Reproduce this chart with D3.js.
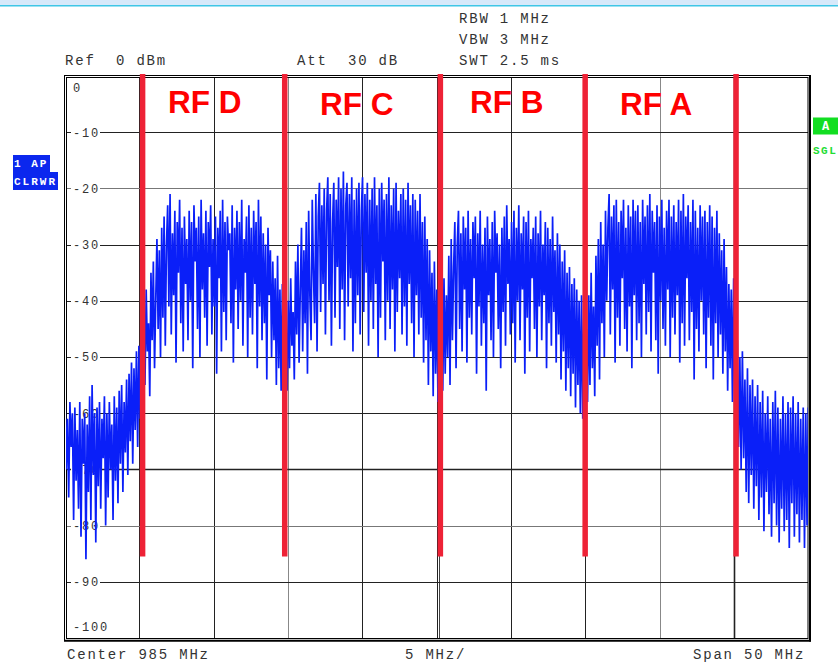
<!DOCTYPE html>
<html>
<head>
<meta charset="utf-8">
<title>Spectrum RF A-D</title>
<script src="https://d3js.org/d3.v7.min.js"></script>
<style>
    body { margin: 0; background: #fff; }
    svg { display: block; }
    .mono { font-family: "Liberation Mono", "DejaVu Sans Mono", monospace; fill: #333; }
</style>
</head>
<body>
<svg width="838" height="662"></svg>
<script>
// frequency edges (MHz) of the trace segments, split at the markers
const segmentEdges = [960, 965.22, 974.78, 985.25, 994.99, 1005.14, 1010];

// trace levels in dBm
const floorLow = [-57, -70, -61, -75, -58, -66, -60, -79, -59, -72, -63, -77, -58, -82, -61, -69, -60, -86, -62, -74,
    -57, -79, -55, -71, -60, -83, -59, -73, -58, -77, -61, -68, -57, -80, -60, -75, -58, -70, -62, -79,
    -57, -72, -59, -76, -56, -69, -55, -74, -58, -67, -54, -71, -53, -65, -51, -69, -52, -63, -49, -66,
    -48, -61, -47];
const bandD = [-59, -42, -55, -38, -49, -44, -57, -35, -47, -33, -52, -40, -29, -45, -31, -50, -27, -43, -25, -48,
    -30, -23, -41, -21, -46, -28, -39, -24, -51, -26, -35, -22, -44, -27, -49, -25, -37, -29, -47, -24,
    -40, -26, -52, -23, -33, -27, -45, -25, -50, -22, -38, -28, -43, -24, -48, -26, -34, -23, -46, -29,
    -41, -25, -53, -27, -36, -24, -49, -22, -42, -26, -47, -25, -31, -28, -44, -23, -51, -27, -38, -24,
    -45, -26, -40, -22, -48, -29, -35, -25, -50, -23, -43, -27, -46, -24, -37, -26, -52, -22, -41, -25,
    -47, -28, -44, -30, -54, -27, -39, -31, -50, -33, -47, -36, -55, -32, -52, -38, -56, -37, -58];
const bandC = [-61, -44, -56, -40, -52, -36, -48, -42, -54, -33, -46, -30, -51, -38, -27, -49, -31, -44, -26, -53,
    -24, -39, -47, -22, -35, -44, -21, -49, -25, -19, -42, -23, -37, -20, -46, -24, -18, -40, -21, -48,
    -26, -19, -43, -22, -34, -18, -45, -20, -38, -17, -47, -23, -19, -41, -21, -36, -18, -49, -22, -44,
    -20, -39, -19, -46, -24, -18, -42, -21, -35, -19, -48, -22, -40, -20, -45, -18, -37, -23, -50, -20,
    -43, -19, -33, -22, -47, -21, -40, -18, -45, -23, -38, -20, -49, -19, -42, -24, -36, -21, -46, -20,
    -41, -22, -48, -19, -37, -23, -44, -21, -50, -22, -39, -24, -46, -21, -43, -26, -51, -25, -47, -29,
    -55, -31, -49, -35, -57, -33, -53, -38, -58, -37];
const bandB = [-58, -41, -56, -36, -53, -39, -50, -32, -55, -29, -47, -34, -26, -52, -30, -24, -45, -28, -49, -25,
    -38, -27, -51, -24, -43, -29, -46, -26, -36, -25, -53, -28, -41, -24, -48, -30, -44, -27, -56, -25,
    -39, -29, -47, -26, -50, -24, -35, -28, -45, -30, -52, -27, -42, -25, -48, -23, -37, -29, -46, -26,
    -44, -24, -51, -27, -40, -23, -47, -28, -38, -25, -53, -26, -43, -24, -49, -29, -36, -27, -45, -25,
    -50, -28, -41, -24, -47, -30, -39, -26, -52, -27, -44, -29, -48, -25, -42, -31, -51, -28, -46, -30,
    -54, -33, -49, -31, -56, -35, -52, -34, -57, -37, -53, -36, -59, -38, -55, -40, -60, -39, -61, -41];
const bandA = [-62, -45, -58, -39, -55, -35, -52, -41, -57, -32, -48, -29, -54, -26, -44, -30, -50, -24, -40, -27,
    -21, -46, -25, -38, -23, -51, -22, -43, -26, -48, -24, -36, -22, -45, -27, -49, -23, -41, -25, -52,
    -22, -39, -24, -47, -23, -44, -26, -50, -22, -37, -25, -46, -23, -42, -21, -49, -24, -35, -26, -47,
    -23, -53, -25, -40, -22, -45, -27, -48, -24, -38, -22, -50, -25, -43, -23, -46, -26, -39, -22, -51,
    -24, -44, -21, -48, -25, -36, -23, -47, -26, -42, -22, -54, -24, -45, -27, -49, -23, -40, -25, -46,
    -24, -52, -26, -43, -23, -48, -25, -54, -27, -44, -24, -50, -28, -46, -31, -53, -29, -49, -34, -56,
    -37, -52, -38, -58, -36, -59];
const floorHigh = [-62, -47, -66, -50, -70, -49, -68, -54, -74, -52, -76, -55, -71, -54, -77, -57, -73, -55, -79, -58,
    -75, -56, -81, -60, -74, -57, -78, -61, -82, -58, -76, -56, -80, -59, -83, -61, -77, -57, -81, -60,
    -79, -58, -84, -59, -76, -57, -82, -60, -78, -58, -83, -61, -79, -59, -84, -60, -80, -59];

const markerFreqs = [965.22, 974.78, 985.25, 994.99, 1005.14];
const bandLabels = ["RF D", "RF C", "RF B", "RF A"];
const labelFreqs = [966.93, 977.15, 987.24, 997.33];
const labelLevels = [-6.6, -6.95, -6.6, -6.95];
const yTicks = [0, -10, -20, -30, -40, -50, -60, -70, -80, -90, -100];
const xGridFreqs = [965, 970, 975, 980, 985, 990, 995, 1000, 1005];
const grayX = [975, 1000];
const grayY = [-20, -80];

const svg = d3.select("svg");
const x = d3.scaleLinear().domain([960, 1010]).range([65, 808.3]);
const y = d3.scaleLinear().domain([0, -100]).range([76, 638]);
const px = v => Math.round(v) + 0.5;

// top status strip
svg.append("rect").attr("x", 0).attr("y", 0).attr("width", 838).attr("height", 5).attr("fill", "#d7e9fa");
svg.append("line").attr("x1", 0).attr("x2", 838).attr("y1", 5.7).attr("y2", 5.7)
    .attr("stroke", "#3fc6e6").attr("stroke-width", 1.5);

// header / footer texts
const info = [
    { t: "RBW 1 MHz", x: 459, y: 22.5 },
    { t: "VBW 3 MHz", x: 459, y: 43.5 },
    { t: "SWT 2.5 ms", x: 459, y: 64.5 },
    { t: "Ref  0 dBm", x: 65, y: 64.5 },
    { t: "Att  30 dB", x: 297, y: 64.5 },
    { t: "Center 985 MHz", x: 67, y: 659 },
    { t: "5 MHz/", x: 405, y: 659 },
    { t: "Span 50 MHz", x: 693, y: 659 }
];
svg.selectAll(".info").data(info).enter().append("text")
    .attr("class", "info mono")
    .attr("x", d => d.x).attr("y", d => d.y)
    .style("font-size", "14px").style("letter-spacing", "1.8px")
    .style("white-space", "pre")
    .text(d => d.t);

// left trace badge
svg.append("rect").attr("x", 13).attr("y", 155).attr("width", 37).attr("height", 17.5).attr("fill", "#0b27ee");
svg.append("rect").attr("x", 13).attr("y", 172).attr("width", 45).attr("height", 18).attr("fill", "#0b27ee");
svg.append("text").attr("class", "mono").attr("x", 14).attr("y", 167)
    .style("fill", "#fff").style("font-size", "11px").style("font-weight", "bold").style("letter-spacing", "2px")
    .style("white-space", "pre").text("1 AP");
svg.append("text").attr("class", "mono").attr("x", 14).attr("y", 184.5)
    .style("fill", "#fff").style("font-size", "11px").style("font-weight", "bold").style("letter-spacing", "2px")
    .text("CLRWR");

// right badge
svg.append("rect").attr("x", 813).attr("y", 117.5).attr("width", 25).attr("height", 17).attr("fill", "#12de22");
svg.append("text").attr("class", "mono").attr("x", 825.5).attr("y", 130).attr("text-anchor", "middle")
    .style("fill", "#fff").style("font-size", "12px").style("font-weight", "bold").text("A");
svg.append("text").attr("class", "mono").attr("x", 813).attr("y", 154)
    .style("fill", "#22dd33").style("font-size", "11px").style("font-weight", "bold").style("letter-spacing", "1.5px")
    .text("SGL");

// grid
const g = svg.append("g");
g.selectAll(".vgrid").data(xGridFreqs).enter().append("line")
    .attr("x1", d => px(x(d))).attr("x2", d => px(x(d)))
    .attr("y1", 77.5).attr("y2", 638.5)
    .attr("stroke", d => grayX.includes(d) ? "#888" : "#222")
    .attr("stroke-width", d => d === 1005 ? 1.6 : 1);
g.append("line").attr("x1", px(x(985)) + 2).attr("x2", px(x(985)) + 2).attr("y1", 77.5).attr("y2", 638.5)
    .attr("stroke", "#444");

const hLines = yTicks.filter(d => d < 0 && d > -100);
g.selectAll(".hgrid").data(hLines).enter().append("line")
    .attr("x1", 66.5).attr("x2", 808)
    .attr("y1", d => px(y(d))).attr("y2", d => px(y(d)))
    .attr("stroke", d => grayY.includes(d) ? "#777" : "#222")
    .attr("stroke-width", d => d === -70 ? 1.5 : 1);

// level labels inside the grid
const tickG = g.selectAll(".tick").data(yTicks).enter().append("g")
    .attr("transform", d => {
        const ty = d === 0 ? y(0) + 12 : d === -100 ? y(-100) - 11 : y(d);
        return "translate(73," + ty + ")";
    });
tickG.append("rect")
    .attr("x", -2).attr("y", -6).attr("height", 12)
    .attr("width", d => String(d).length * 9 + 2)
    .attr("fill", d => (d === 0 || d === -100) ? "none" : "#fff");
tickG.append("text").attr("class", "mono")
    .attr("dy", "0.36em")
    .style("font-size", "12px").style("letter-spacing", "1.8px")
    .text(d => d);

// frame
const frame = svg.append("g").attr("fill", "none").attr("stroke", "#000");
frame.append("rect").attr("x", 64.5).attr("y", 75.5).attr("width", 745).attr("height", 565);
frame.append("rect").attr("x", 66.5).attr("y", 77.5).attr("width", 741.5).attr("height", 561);
frame.append("line").attr("x1", 810).attr("x2", 810).attr("y1", 75).attr("y2", 641.5).attr("stroke-width", 2);
frame.append("line").attr("x1", 64).attr("x2", 811).attr("y1", 640.8).attr("y2", 640.8).attr("stroke-width", 2);

// trace
const segments = [floorLow, bandD, bandC, bandB, bandA, floorHigh];
const trace = [];
segments.forEach((vals, s) => {
    const f0 = segmentEdges[s], f1 = segmentEdges[s + 1];
    const n = s === segments.length - 1 ? vals.length - 1 : vals.length;
    vals.forEach((v, i) => trace.push({ f: f0 + (f1 - f0) * i / n, v: v }));
});

svg.append("clipPath").attr("id", "plot").append("rect")
    .attr("x", 66).attr("y", 77).attr("width", 742).attr("height", 561);

svg.append("path")
    .datum(trace)
    .attr("clip-path", "url(#plot)")
    .attr("fill", "none")
    .attr("stroke", "#0a1ff8")
    .attr("stroke-width", 1.7)
    .attr("stroke-linejoin", "miter")
    .attr("d", d3.line().x(d => x(d.f)).y(d => y(d.v)));

// channel markers
svg.selectAll(".marker").data(markerFreqs).enter().append("line")
    .attr("x1", d => x(d)).attr("x2", d => x(d))
    .attr("y1", y(0) - 2).attr("y2", y(-85.5))
    .attr("stroke", "#ee2236").attr("stroke-width", 5.5);

svg.selectAll(".rf").data(bandLabels).enter().append("text")
    .attr("x", (d, i) => x(labelFreqs[i]))
    .attr("y", (d, i) => y(labelLevels[i]))
    .style("font-family", "'Liberation Sans', Arial, sans-serif")
    .style("font-weight", "bold")
    .style("font-size", "31.5px")
    .style("white-space", "pre")
    .attr("fill", "#ff0000")
    .text(d => d);
</script>
</body>
</html>
